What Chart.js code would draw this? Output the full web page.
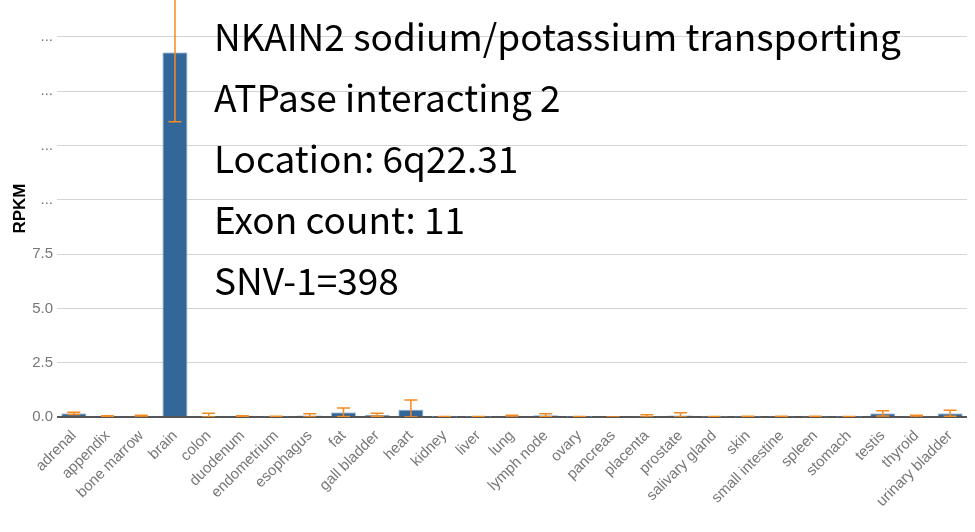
<!DOCTYPE html>
<html>
<head>
<meta charset="utf-8">
<script src="https://cdn.jsdelivr.net/npm/chart.js@4/dist/chart.umd.min.js"></script>
<style>
  body { margin: 0; background: #fff; }
  #wrap { position: relative; width: 975px; height: 532px; }
  #info {
    position: absolute; left: 214px; top: 5px;
    font-family: "Noto Sans CJK JP", "Noto Sans", sans-serif;
    font-size: 37px; line-height: 61px; color: #000;
    pointer-events: none; white-space: nowrap;
  }
</style>
</head>
<body>
<div id="wrap">
  <canvas id="chart" width="975" height="532"></canvas>
  <div id="info">
    <div>NKAIN2 sodium/potassium transporting</div>
    <div>ATPase interacting 2</div>
    <div>Location: 6q22.31</div>
    <div>Exon count: 11</div>
    <div>SNV-1=398</div>
  </div>
</div>
<script>
var tissues = ['adrenal', 'appendix', 'bone marrow', 'brain', 'colon', 'duodenum', 'endometrium',
  'esophagus', 'fat', 'gall bladder', 'heart', 'kidney', 'liver', 'lung', 'lymph node', 'ovary',
  'pancreas', 'placenta', 'prostate', 'salivary gland', 'skin', 'small intestine', 'spleen',
  'stomach', 'testis', 'thyroid', 'urinary bladder'];
var rpkm = [0.17, 0.03, 0.04, 16.8, 0.05, 0.03, 0.02, 0.07, 0.22, 0.1, 0.35, 0.01, 0.01, 0.03,
  0.08, 0.01, 0.0, 0.04, 0.07, 0.01, 0.01, 0.02, 0.02, 0.01, 0.17, 0.04, 0.17];
var rpkmErr = [0.05, 0.03, 0.04, 3.2, 0.12, 0.03, 0.02, 0.08, 0.2, 0.07, 0.43, 0.01, 0.01, 0.05,
  0.07, 0.01, 0.0, 0.06, 0.13, 0.01, 0.02, 0.02, 0.02, 0.01, 0.12, 0.04, 0.14];

// draws the error bars on top of the bars
var errorBars = {
  id: 'errorBars',
  afterDatasetsDraw: function(chart) {
    var ctx = chart.ctx;
    var y = chart.scales.y;
    var meta = chart.getDatasetMeta(0);
    var area = chart.chartArea;
    ctx.save();
    ctx.beginPath();
    ctx.rect(area.left, area.top, area.right - area.left, area.bottom - area.top);
    ctx.clip();
    ctx.strokeStyle = '#f58a1f';
    ctx.lineWidth = 1.5;
    meta.data.forEach(function(bar, i) {
      var x = bar.x;
      var top = y.getPixelForValue(rpkm[i] + rpkmErr[i]);
      var bot = y.getPixelForValue(Math.max(rpkm[i] - rpkmErr[i], 0));
      ctx.beginPath();
      ctx.moveTo(x, top); ctx.lineTo(x, bot);
      ctx.moveTo(x - 6.5, top); ctx.lineTo(x + 6.5, top);
      ctx.moveTo(x - 6.5, bot); ctx.lineTo(x + 6.5, bot);
      ctx.stroke();
    });
    ctx.restore();
  }
};

var chart = new Chart(document.getElementById('chart').getContext('2d'), {
  type: 'bar',
  data: {
    labels: tissues,
    datasets: [{
      data: rpkm,
      backgroundColor: '#336699',
      borderColor: 'rgba(170,195,220,0.9)',
      borderWidth: 1,
      barPercentage: 0.75,
      categoryPercentage: 1
    }]
  },
  options: {
    responsive: false,
    animation: false,
    layout: { padding: { top: 0, right: 8, left: 0, bottom: 0 } },
    plugins: { legend: { display: false }, tooltip: { enabled: false } },
    scales: {
      x: {
        grid: { display: false },
        border: { display: false },
        ticks: {
          color: '#777', font: { family: 'Liberation Sans', size: 15 },
          minRotation: 45, maxRotation: 45, autoSkip: false, padding: 2
        },
        afterFit: function(s) { s.height = 115; s.paddingTop = 0; }
      },
      y: {
        min: 0, max: 19.2,
        border: { display: false },
        grid: {
          drawTicks: false,
          color: function(c) { return c.tick && c.tick.value === 0 ? '#555' : '#d4d4d4'; },
          lineWidth: function(c) { return c.tick && c.tick.value === 0 ? 2 : 1; }
        },
        ticks: {
          stepSize: 2.5, includeBounds: false, color: '#777', padding: 4,
          font: { family: 'Liberation Sans', size: 15 },
          callback: function(v) { return v >= 10 ? '...' : v.toFixed(1); }
        },
        title: {
          display: true, text: 'RPKM', color: '#000', padding: { top: 10, bottom: 0 },
          font: { family: 'Liberation Sans', size: 17, weight: 'bold' }
        },
        afterFit: function(s) { s.width = 57; s.paddingTop = 0; s.paddingBottom = 0; }
      }
    }
  },
  plugins: [errorBars]
});
</script>
</body>
</html>
